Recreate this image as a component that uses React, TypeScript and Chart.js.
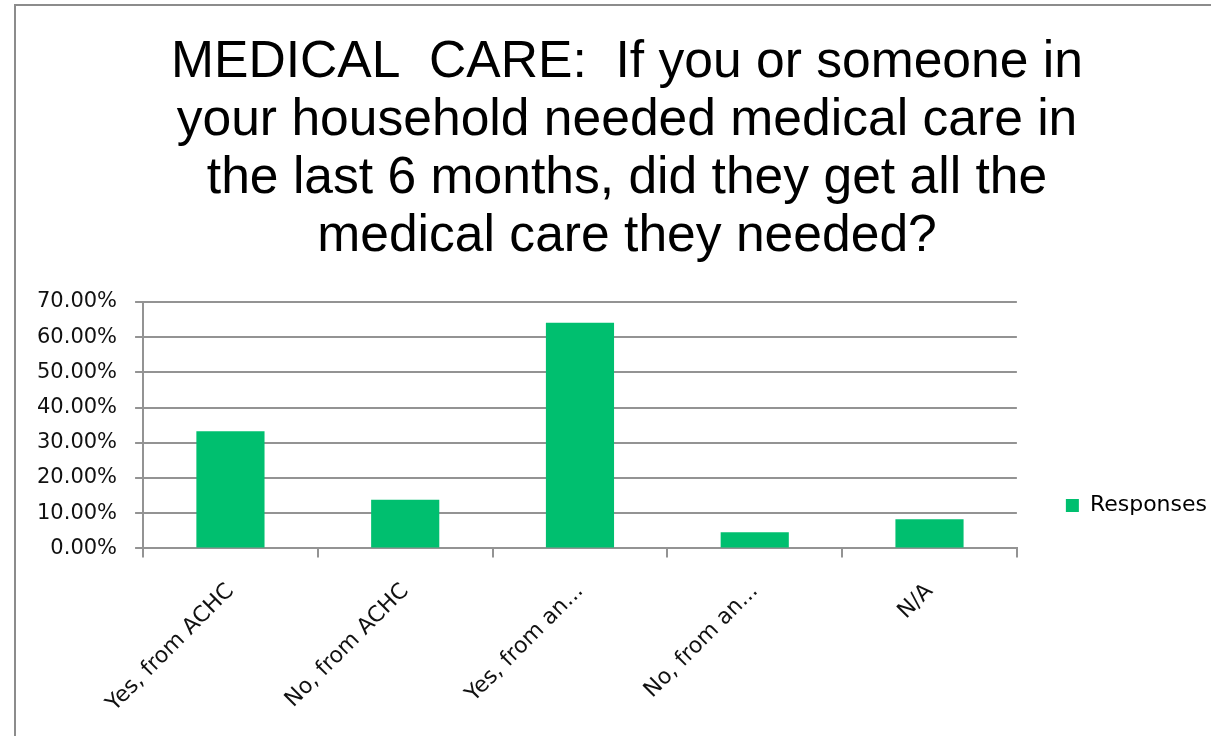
import React, { useEffect, useRef } from "react";
import { Chart, registerables } from "chart.js";

Chart.register(...registerables);

const titleLines = [
  "MEDICAL  CARE:  If you or someone in",
  "your household needed medical care in",
  "the last 6 months, did they get all the",
  "medical care they needed?",
];
const categories = ["Yes, from ACHC", "No, from ACHC", "Yes, from an...", "No, from an...", "N/A"];
const responses = [33.3, 13.8, 64.1, 4.6, 8.3];
const seriesName = "Responses";
const yMax = 70;
const yStep = 10;

const CANVAS_W = 1240;
const CANVAS_H = 736;

const framePlugin = {
  id: "frame",
  beforeDraw(chart: any) {
    const ctx = chart.ctx;
    ctx.save();
    ctx.fillStyle = "#ffffff";
    ctx.fillRect(0, 0, chart.width, chart.height);
    ctx.strokeStyle = "#8c8c8c";
    ctx.lineWidth = 2;
    ctx.beginPath();
    ctx.moveTo(15, chart.height + 10);
    ctx.lineTo(15, 5);
    ctx.lineTo(chart.width - 1, 5);
    ctx.stroke();
    ctx.restore();
  },
};

export default function App() {
  const ref = useRef<HTMLCanvasElement | null>(null);

  useEffect(() => {
    if (!ref.current) return;
    const gridColor = "#939393";
    const chart = new Chart(ref.current, {
      type: "bar",
      data: {
        labels: categories,
        datasets: [
          {
            label: seriesName,
            data: responses,
            backgroundColor: "#00BF6F",
            borderWidth: 0,
            barPercentage: 0.39,
            categoryPercentage: 1,
          },
        ],
      },
      options: {
        animation: false,
        responsive: false,
        maintainAspectRatio: false,
        devicePixelRatio: 1,
        layout: { padding: { left: 37, right: 23, top: 0, bottom: 13 } },
        plugins: {
          tooltip: { enabled: false },
          title: {
            display: true,
            text: titleLines,
            color: "#000000",
            font: { family: "'Liberation Sans', Arial, sans-serif", size: 51.6, weight: "normal", lineHeight: 58 / 51.6 },
            padding: { top: 34, bottom: 36 },
          },
          legend: {
            display: true,
            position: "right",
            align: "end",
            fullSize: false,
            labels: {
              color: "#000000",
              font: { family: "'DejaVu Sans', Verdana, sans-serif", size: 22 },
              boxWidth: 13,
              boxHeight: 13,
              padding: 32,
            },
          },
        },
        scales: {
          x: {
            offset: true,
            grid: {
              offset: true,
              drawOnChartArea: false,
              drawTicks: true,
              tickLength: 9,
              color: gridColor,
              lineWidth: 2,
            },
            border: { display: true, color: gridColor, width: 2 },
            ticks: {
              minRotation: 45,
              maxRotation: 45,
              autoSkip: false,
              padding: 21,
              color: "#111111",
              font: { family: "'DejaVu Sans', Verdana, sans-serif", size: 22 },
            },
            afterFit: (s: any) => {
              s.height = s.height - 15;
            },
          },
          y: {
            min: 0,
            max: yMax,
            grid: {
              color: gridColor,
              lineWidth: 2,
              drawTicks: true,
              tickLength: 8,
            },
            border: { display: true, color: gridColor, width: 2 },
            ticks: {
              stepSize: yStep,
              padding: 18,
              color: "#111111",
              font: { family: "'DejaVu Sans', Verdana, sans-serif", size: 21 },
              callback: (v: any) => Number(v).toFixed(2) + "%",
            },
            afterFit: (s: any) => {
              s.width = s.width - 18;
            },
          },
          pad: {
            type: "linear",
            position: "right",
            display: true,
            grid: { display: false, drawTicks: false },
            border: { display: false },
            ticks: { display: false },
            afterFit: (s: any) => {
              s.width = 17;
            },
          },
        },
      } as any,
      plugins: [framePlugin],
    });
    return () => chart.destroy();
  }, []);

  return (
    <div
      style={{
        position: "absolute",
        left: 0,
        top: 0,
        width: 1211,
        height: 736,
        overflow: "hidden",
        background: "#ffffff",
      }}
    >
      <canvas ref={ref} width={CANVAS_W} height={CANVAS_H} style={{ width: CANVAS_W, height: CANVAS_H, display: "block" }} />
    </div>
  );
}
